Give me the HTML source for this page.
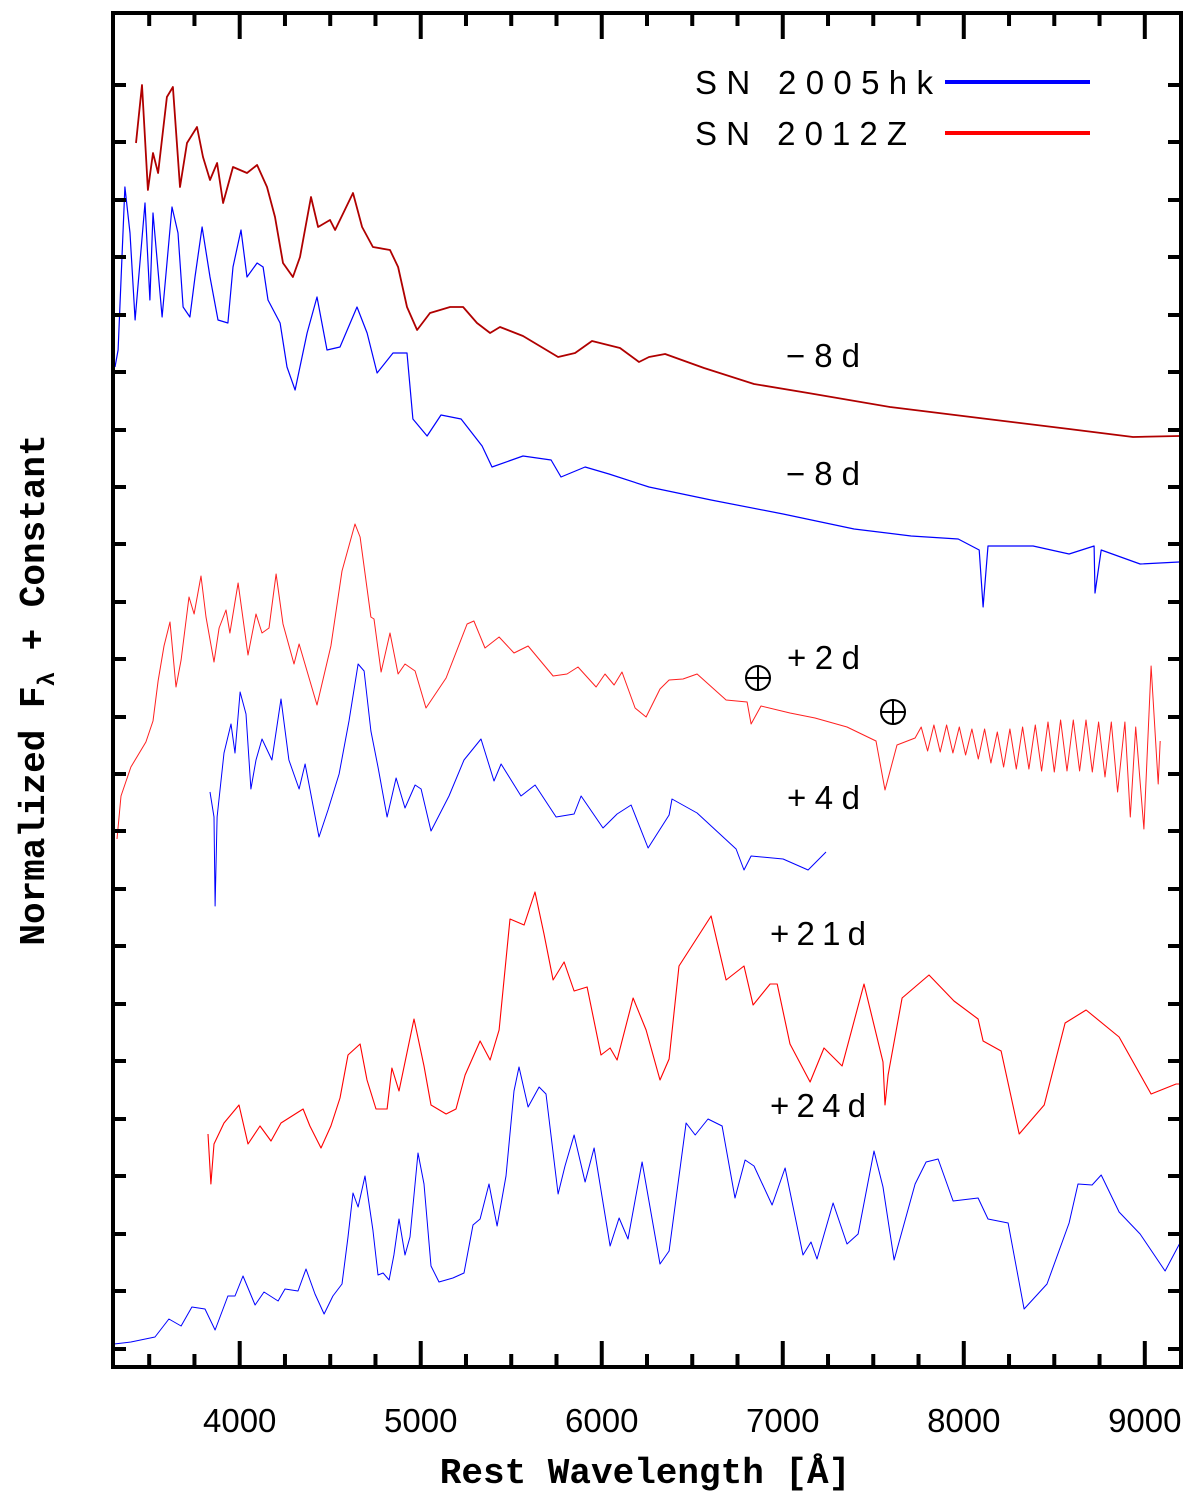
<!DOCTYPE html>
<html>
<head>
<meta charset="utf-8">
<style>
html,body{margin:0;padding:0;background:#fff;}
svg{display:block;}
.tick{font-family:"Liberation Sans",sans-serif;font-size:33px;fill:#000;}
.lab{font-family:"Liberation Sans",sans-serif;font-size:33px;fill:#000;}
.ttl{font-family:"Liberation Mono",monospace;font-weight:bold;font-size:36px;fill:#000;}
</style>
</head>
<body>
<svg id="chart" width="1200" height="1504" viewBox="0 0 1200 1504" xmlns="http://www.w3.org/2000/svg">
  <g id="series"></g>
  <g id="axes"></g>
  <text class="ttl" x="645" y="1483" text-anchor="middle">Rest Wavelength [Å]</text>
  <text class="ttl" transform="translate(44,690) rotate(-90)" text-anchor="middle">Normalized F<tspan font-size="24" dy="10">λ</tspan><tspan dy="-10"> + Constant</tspan></text>
  <g>
    <text class="lab" x="695" y="94" textLength="238" lengthAdjust="spacing">SN 2005hk</text>
    <line x1="945" y1="82" x2="1090" y2="82" stroke="#0000ff" stroke-width="4"/>
    <text class="lab" x="695" y="145" textLength="212" lengthAdjust="spacing">SN 2012Z</text>
    <line x1="945" y1="133" x2="1090" y2="133" stroke="#ff0000" stroke-width="4"/>
  </g>
  <g>
    <text class="lab" x="786" y="367" textLength="74" lengthAdjust="spacing">−8d</text>
    <text class="lab" x="786" y="485" textLength="74" lengthAdjust="spacing">−8d</text>
    <text class="lab" x="787" y="669" textLength="73" lengthAdjust="spacing">+2d</text>
    <text class="lab" x="787" y="809" textLength="73" lengthAdjust="spacing">+4d</text>
    <text class="lab" x="770" y="945" textLength="96" lengthAdjust="spacing">+21d</text>
    <text class="lab" x="770" y="1117" textLength="96" lengthAdjust="spacing">+24d</text>
  </g>
  <g stroke="#000" stroke-width="2" fill="none">
    <circle cx="758" cy="678" r="12"/><line x1="746" y1="678" x2="770" y2="678"/><line x1="758" y1="666" x2="758" y2="690"/>
  </g>
  <g stroke="#000" stroke-width="2" fill="none">
    <circle cx="893" cy="712" r="12"/><line x1="881" y1="712" x2="905" y2="712"/><line x1="893" y1="700" x2="893" y2="724"/>
  </g>
</svg>
<script>
// axis ranges
const xDomain = [3300, 9200];
const yDomain = [0, 13.54];
const xMajorTicks = [4000, 5000, 6000, 7000, 8000, 9000];
const xMinorTicks = [3500, 3750, 4250, 4500, 4750, 5250, 5500, 5750, 6250, 6500, 6750, 7250, 7500, 7750, 8250, 8500, 8750, 9250];
const yTickValues = [12.82, 12.25, 11.67, 11.10, 10.52, 9.95, 9.37, 8.80, 8.23, 7.65, 7.08, 6.50, 5.93, 5.36, 4.78, 4.21, 3.63, 3.06, 2.48, 1.91, 1.33, 0.76, 0.18];
const yMajorTicks = [11.37, 9.07, 6.78, 4.48, 2.18];

// spectra: [wavelength, flux]
const sn2012z_m8 = [[3427,12.24],[3460,12.82],[3493,11.77],[3521,12.14],[3549,11.94],[3598,12.70],[3631,12.80],[3670,11.80],[3709,12.24],[3764,12.40],[3797,12.10],[3836,11.87],[3875,12.04],[3908,11.64],[3963,12.00],[4040,11.94],[4096,12.02],[4151,11.80],[4195,11.50],[4239,11.04],[4294,10.90],[4333,11.10],[4394,11.70],[4433,11.40],[4499,11.47],[4527,11.37],[4626,11.74],[4676,11.40],[4736,11.20],[4830,11.17],[4875,11.00],[4924,10.60],[4980,10.37],[5051,10.54],[5162,10.60],[5234,10.60],[5311,10.44],[5383,10.34],[5438,10.40],[5565,10.31],[5759,10.10],[5853,10.14],[5946,10.26],[6101,10.19],[6206,10.05],[6261,10.10],[6350,10.13],[6565,9.99],[6841,9.83],[7140,9.74],[7593,9.60],[8085,9.49],[8582,9.38],[8935,9.30],[9189,9.31]];
const sn2005hk_m8 = [[3311,10.00],[3328,10.17],[3366,11.80],[3394,11.34],[3422,10.47],[3477,11.64],[3504,10.67],[3521,11.54],[3571,10.50],[3626,11.60],[3659,11.34],[3687,10.60],[3725,10.50],[3753,10.90],[3792,11.40],[3836,10.90],[3880,10.47],[3935,10.44],[3963,11.00],[4007,11.37],[4040,10.90],[4096,11.04],[4129,11.00],[4156,10.67],[4223,10.44],[4261,10.00],[4306,9.77],[4372,10.34],[4427,10.70],[4482,10.17],[4554,10.20],[4648,10.60],[4704,10.34],[4759,9.94],[4847,10.14],[4924,10.14],[4957,9.48],[5035,9.31],[5112,9.52],[5223,9.48],[5339,9.21],[5394,9.00],[5565,9.11],[5720,9.07],[5775,8.90],[5908,9.00],[6040,8.93],[6261,8.80],[6604,8.67],[7002,8.53],[7394,8.38],[7709,8.31],[7969,8.28],[8085,8.17],[8107,7.60],[8134,8.21],[8383,8.21],[8582,8.13],[8720,8.21],[8725,7.74],[8759,8.17],[8974,8.03],[9189,8.05]];
const sn2012z_p2 = [[3322,5.28],[3344,5.71],[3399,6.00],[3482,6.25],[3521,6.46],[3549,6.86],[3582,7.21],[3615,7.45],[3648,6.80],[3676,7.07],[3720,7.70],[3748,7.53],[3786,7.91],[3814,7.50],[3858,7.05],[3886,7.39],[3924,7.57],[3946,7.34],[3991,7.84],[4046,7.12],[4090,7.53],[4123,7.34],[4162,7.39],[4201,7.93],[4239,7.43],[4300,7.03],[4328,7.23],[4427,6.62],[4504,7.21],[4565,7.96],[4637,8.43],[4665,8.30],[4725,7.50],[4742,7.48],[4781,6.95],[4830,7.34],[4875,6.93],[4913,7.03],[4969,6.96],[5029,6.59],[5140,6.89],[5256,7.43],[5294,7.46],[5355,7.19],[5433,7.30],[5515,7.14],[5593,7.21],[5731,6.91],[5808,6.93],[5869,7.00],[5969,6.80],[6018,6.93],[6068,6.82],[6112,6.95],[6184,6.59],[6245,6.50],[6322,6.78],[6372,6.87],[6449,6.88],[6527,6.93],[6687,6.67],[6803,6.65],[6825,6.43],[6880,6.61],[7040,6.54],[7178,6.49],[7355,6.40],[7515,6.26],[7565,5.77],[7631,6.22],[7731,6.29],[7765,6.40],[7800,6.16],[7835,6.42],[7870,6.15],[7905,6.42],[7940,6.14],[7975,6.40],[8010,6.12],[8045,6.38],[8080,6.08],[8115,6.38],[8150,6.04],[8185,6.35],[8220,6.00],[8255,6.38],[8290,5.98],[8325,6.40],[8360,5.98],[8395,6.42],[8430,5.96],[8465,6.45],[8500,5.95],[8535,6.47],[8570,5.96],[8605,6.47],[8640,5.96],[8675,6.47],[8710,5.95],[8745,6.45],[8780,5.90],[8815,6.45],[8850,5.75],[8890,6.45],[8920,5.50],[8950,6.40],[8995,5.38],[9035,7.01],[9074,5.83],[9085,6.26]];
const sn2005hk_p4 = [[3836,5.75],[3858,5.50],[3864,4.61],[3875,5.50],[3913,6.14],[3952,6.43],[3974,6.14],[4002,6.75],[4035,6.53],[4062,5.78],[4090,6.07],[4123,6.28],[4178,6.07],[4228,6.68],[4272,6.07],[4328,5.78],[4361,6.03],[4388,5.78],[4438,5.30],[4488,5.57],[4549,5.93],[4604,6.46],[4654,7.03],[4687,6.96],[4725,6.36],[4764,6.00],[4814,5.50],[4864,5.89],[4913,5.59],[4969,5.82],[5002,5.78],[5057,5.36],[5156,5.71],[5239,6.07],[5333,6.28],[5405,5.86],[5444,6.03],[5554,5.71],[5632,5.82],[5748,5.50],[5847,5.53],[5886,5.71],[6007,5.39],[6085,5.53],[6162,5.62],[6256,5.19],[6372,5.52],[6388,5.68],[6527,5.54],[6742,5.18],[6786,4.97],[6825,5.11],[7002,5.08],[7140,4.97],[7239,5.15]];
const sn2012z_p21 = [[3825,2.33],[3841,1.83],[3858,2.23],[3913,2.44],[3996,2.62],[4046,2.23],[4112,2.41],[4173,2.26],[4228,2.44],[4350,2.58],[4388,2.41],[4449,2.19],[4504,2.41],[4554,2.69],[4598,3.12],[4665,3.23],[4703,2.87],[4753,2.58],[4814,2.58],[4841,2.99],[4880,2.76],[4963,3.48],[5018,3.01],[5057,2.62],[5140,2.53],[5195,2.58],[5245,2.92],[5328,3.26],[5383,3.07],[5433,3.37],[5493,4.48],[5571,4.42],[5631,4.75],[5681,4.33],[5731,3.87],[5792,4.05],[5847,3.76],[5919,3.80],[5996,3.12],[6046,3.19],[6085,3.07],[6173,3.69],[6245,3.37],[6322,2.87],[6372,3.08],[6427,4.01],[6604,4.51],[6687,3.87],[6786,4.01],[6836,3.62],[6930,3.83],[6969,3.83],[7040,3.23],[7151,2.85],[7228,3.19],[7328,3.01],[7449,3.83],[7554,3.05],[7565,2.62],[7582,2.92],[7659,3.69],[7808,3.92],[7946,3.66],[8079,3.48],[8107,3.26],[8206,3.16],[8306,2.33],[8444,2.62],[8560,3.44],[8676,3.57],[8858,3.30],[9035,2.73],[9173,2.83],[9200,2.83]];
const sn2005hk_p24 = [[3306,0.23],[3399,0.25],[3532,0.30],[3609,0.48],[3676,0.41],[3736,0.60],[3808,0.58],[3864,0.37],[3935,0.71],[3974,0.71],[4018,0.91],[4085,0.62],[4134,0.75],[4212,0.66],[4250,0.78],[4322,0.76],[4366,0.98],[4416,0.73],[4466,0.53],[4515,0.71],[4565,0.83],[4598,1.30],[4626,1.74],[4654,1.60],[4692,1.91],[4736,1.37],[4764,0.92],[4792,0.94],[4825,0.87],[4852,1.12],[4880,1.48],[4913,1.12],[4941,1.30],[4985,2.14],[5018,1.83],[5057,1.01],[5101,0.85],[5178,0.89],[5239,0.94],[5289,1.42],[5328,1.48],[5377,1.83],[5422,1.41],[5471,1.91],[5515,2.76],[5543,3.00],[5593,2.60],[5654,2.80],[5692,2.73],[5759,1.73],[5797,2.01],[5847,2.32],[5908,1.85],[5958,2.19],[6046,1.21],[6096,1.49],[6145,1.28],[6223,2.05],[6322,1.03],[6372,1.16],[6466,2.44],[6516,2.32],[6587,2.48],[6665,2.41],[6736,1.69],[6792,2.07],[6841,2.01],[6941,1.62],[7013,1.99],[7112,1.12],[7156,1.25],[7189,1.08],[7278,1.64],[7355,1.23],[7416,1.33],[7504,2.16],[7554,1.80],[7615,1.07],[7731,1.83],[7792,2.05],[7858,2.08],[7941,1.66],[8079,1.69],[8134,1.48],[8245,1.44],[8333,0.58],[8460,0.83],[8582,1.44],[8631,1.83],[8709,1.82],[8759,1.92],[8858,1.55],[8974,1.33],[9112,0.96],[9200,1.26]];

const NS = "http://www.w3.org/2000/svg";
const L = 113, R = 1181, T = 13, B = 1367;
function xs(v){ return L + (v - xDomain[0]) / (xDomain[1] - xDomain[0]) * (R - L); }
function ys(v){ return B - (v - yDomain[0]) / (yDomain[1] - yDomain[0]) * (B - T); }

const seriesG = document.getElementById('series');
function drawSpec(data, color, width, name){
  const p = document.createElementNS(NS, 'path');
  let d = '';
  data.forEach((pt, i) => { d += (i ? 'L' : 'M') + xs(pt[0]).toFixed(1) + ',' + ys(pt[1]).toFixed(1); });
  p.setAttribute('d', d);
  p.setAttribute('fill', 'none');
  p.setAttribute('stroke', color);
  p.setAttribute('stroke-width', width);
  p.setAttribute('stroke-linejoin', 'round');
  
  
  seriesG.appendChild(p);
}
drawSpec(sn2012z_m8, '#b00000', 1.8, 'spectrum-2012z-minus8d');
drawSpec(sn2005hk_m8, '#0000ff', 1.2, 'spectrum-2005hk-minus8d');
drawSpec(sn2012z_p2, '#ff2020', 1.0, 'spectrum-2012z-plus2d');
drawSpec(sn2005hk_p4, '#0000ff', 1.0, 'spectrum-2005hk-plus4d');
drawSpec(sn2012z_p21, '#ff0000', 1.1, 'spectrum-2012z-plus21d');
drawSpec(sn2005hk_p24, '#0000ff', 1.0, 'spectrum-2005hk-plus24d');

const axesG = document.getElementById('axes');
function ln(x1,y1,x2,y2,w,name){
  const l = document.createElementNS(NS,'line');
  l.setAttribute('x1',x1); l.setAttribute('y1',y1); l.setAttribute('x2',x2); l.setAttribute('y2',y2);
  l.setAttribute('stroke','#000'); l.setAttribute('stroke-width',w);
  
  
  axesG.appendChild(l);
}
const frame = document.createElementNS(NS,'rect');
frame.setAttribute('x',L); frame.setAttribute('y',T); frame.setAttribute('width',R-L); frame.setAttribute('height',B-T);
frame.setAttribute('fill','none'); frame.setAttribute('stroke','#000'); frame.setAttribute('stroke-width','4');


axesG.appendChild(frame);

xMajorTicks.forEach(v => {
  const x = xs(v);
  ln(x,B,x,B-26,4,'x-major-tick');
  ln(x,T,x,T+26,4,'x-major-tick-top');
  const t = document.createElementNS(NS,'text');
  t.setAttribute('x', x); t.setAttribute('y', 1432);
  t.setAttribute('text-anchor','middle'); t.setAttribute('class','tick');
  t.textContent = v;
  
  
  axesG.appendChild(t);
});
xMinorTicks.forEach(v => {
  const x = xs(v);
  if (x > R) return;
  ln(x,B,x,B-13,4,'x-minor-tick');
  ln(x,T,x,T+13,4,'x-minor-tick-top');
});
yTickValues.forEach(v => {
  const y = ys(v);
  const major = yMajorTicks.some(m => Math.abs(m - v) < 0.05);
  const len = major ? 26 : 13;
  ln(L,y,L+len,y,4,'y-tick');
  ln(R,y,R-len,y,4,'y-tick-right');
});
</script>
</body>
</html>
